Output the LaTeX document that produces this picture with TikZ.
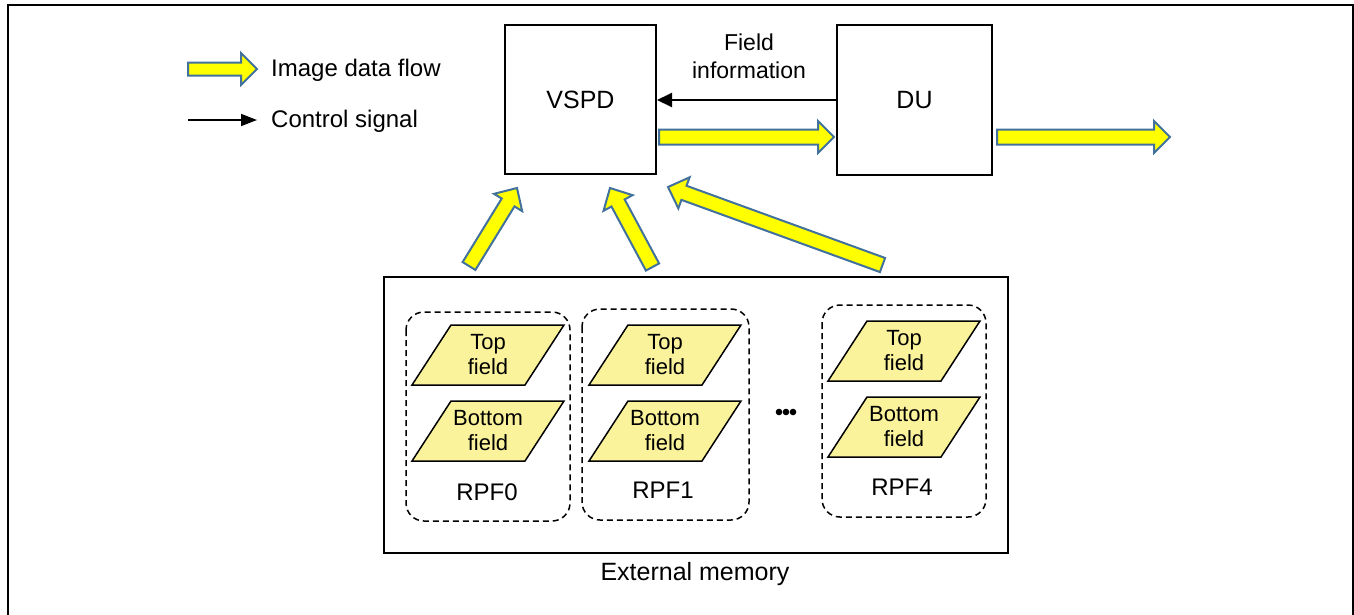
\documentclass[tikz,border=0pt]{standalone}
\usepackage{fontspec}
\setmainfont{Liberation Sans}
\usetikzlibrary{calc,arrows.meta}
\definecolor{flowyellow}{RGB}{255,255,0}
\definecolor{flowedge}{RGB}{65,113,156}
\definecolor{parayellow}{RGB}{250,243,155}
\tikzset{
  flowarrow/.style={draw=flowedge, fill=flowyellow, line width=2pt, line join=miter},
  blockbox/.style={draw, line width=2pt, inner sep=0pt, font=\fontsize{25}{28}\selectfont},
  ctrl/.style={line width=2pt, -{Triangle[length=15pt,width=14pt]}},
  rpfgroup/.style={draw, line width=1.5pt, rounded corners=18pt, dash pattern=on 6pt off 4pt},
  parashape/.style={draw, fill=parayellow, line width=1.5pt, line join=miter},
  lbl/.style={font=\fontsize{24}{26}\selectfont, inner sep=0pt, align=center},
}
% block arrow: #1 tail, #2 tip, #3 shaft half width, #4 head half width, #5 head length
\newcommand\blockarr[5]{%
  \coordinate (ba-c) at ($(#2)!#5!(#1)$);
  \draw[flowarrow] ($(#1)!#3!90:(#2)$) -- ($(ba-c)!#3!90:(#2)$) -- ($(ba-c)!#4!90:(#2)$)
    -- (#2) -- ($(ba-c)!#4!-90:(#2)$) -- ($(ba-c)!#3!-90:(#2)$) -- ($(#1)!#3!-90:(#2)$) -- cycle;
}
% parallelogram with text: #1 name, #2 cx, #3 cy, #4 text
\newcommand\fieldpara[4]{%
  \draw[parashape] (#2-37,#3-30) -- (#2+76,#3-30) -- (#2+37,#3+30) -- (#2-76,#3+30) -- cycle;
  \node[lbl, font=\fontsize{22}{25}\selectfont] (#1) at (#2,#3) {#4};
}
\begin{document}
\begin{tikzpicture}[x=1pt,y=-1pt]
\useasboundingbox (0,0) rectangle (1354,614);
% outer frame
\draw[line width=2pt] (8,616) -- (8,5) -- (1353,5) -- (1353,616);

% legend
\coordinate (lg1s) at (188,69);
\coordinate (lg1e) at (257,69);
\blockarr{lg1s}{lg1e}{6.5pt}{16pt}{16pt}
\node[lbl, anchor=base west] (lgt1) at (271,76) {Image data flow};
\coordinate (lg2s) at (188,120);
\coordinate (lg2e) at (257,120);
\draw[line width=1.6pt, -{Triangle[length=16pt,width=12pt]}] (lg2s) -- (lg2e);
\node[lbl, anchor=base west] (lgt2) at (271,127) {Control signal};

% main blocks
\node[blockbox, minimum width=151pt, minimum height=149pt] (vspd) at (580.5,99.5) {VSPD};
\node[blockbox, minimum width=155pt, minimum height=150pt] (du) at (914.5,100) {DU};

% control signal
\draw[ctrl] (du.west) -- (du.west -| vspd.east);
\node[lbl, font=\fontsize{23}{28}\selectfont] (finfo) at (749,56) {Field\\information};

% image flow horizontal
\coordinate (h1s) at (659,137);
\coordinate (h1e) at (834,137);
\blockarr{h1s}{h1e}{7.5pt}{16pt}{16pt}
\coordinate (h2s) at (997,137);
\coordinate (h2e) at (1170,137);
\blockarr{h2s}{h2e}{7.5pt}{16pt}{16pt}

% external memory
\node[blockbox, minimum width=624pt, minimum height=276pt] (mem) at (696,415) {};
\node[lbl, font=\fontsize{25}{28}\selectfont, anchor=base] (memlbl) at (695,580) {External memory};

% diagonal flows
\coordinate (d1s) at (469,266);
\coordinate (d1e) at (517,188);
\blockarr{d1s}{d1e}{7.5pt}{16.5pt}{17pt}
\coordinate (d2s) at (652.5,267);
\coordinate (d2e) at (610,188);
\blockarr{d2s}{d2e}{7.5pt}{16.5pt}{17pt}
\coordinate (d3s) at (882.5,265);
\coordinate (d3e) at (668,187);
\blockarr{d3s}{d3e}{7.5pt}{16.5pt}{17pt}

% RPF groups
\draw[rpfgroup] (406,312) rectangle (570,521);
\draw[rpfgroup] (582,309) rectangle (749,520);
\draw[rpfgroup] (822,305) rectangle (986,517);

\fieldpara{t0}{488}{355}{Top\\field}
\fieldpara{b0}{488}{431}{Bottom\\field}
\fieldpara{t1}{665}{355}{Top\\field}
\fieldpara{b1}{665}{431}{Bottom\\field}
\fieldpara{t4}{904}{351}{Top\\field}
\fieldpara{b4}{904}{427}{Bottom\\field}

\node[lbl, anchor=base] (r0) at (487,500) {RPF0};
\node[lbl, anchor=base] (r1) at (663,498.5) {RPF1};
\node[lbl, anchor=base] (r4) at (902,495) {RPF4};

% dots
\foreach \dx in {779,786,793} \fill (\dx,412) circle (3.3pt);
\end{tikzpicture}
\end{document}
